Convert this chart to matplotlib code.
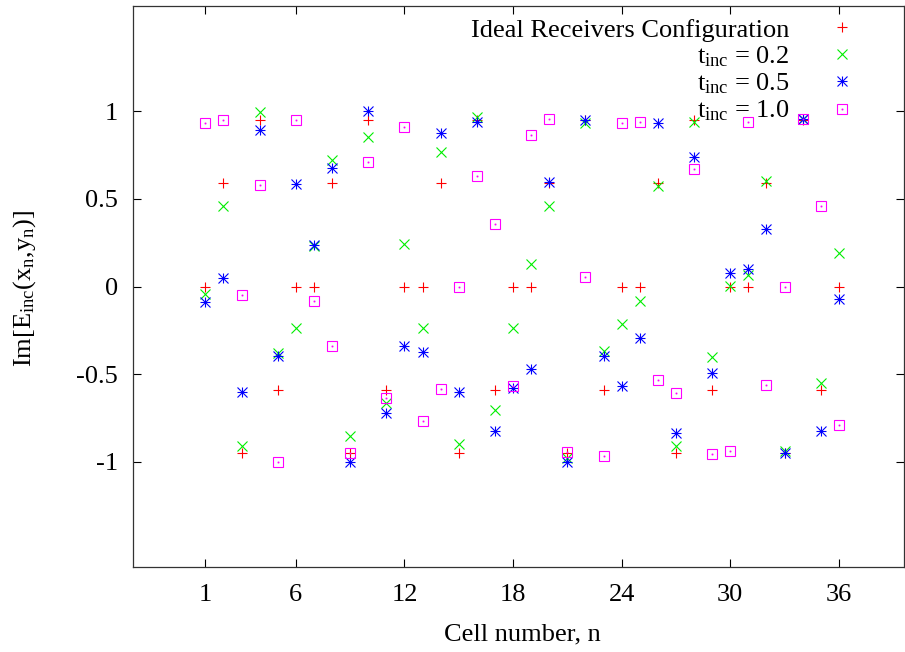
import numpy as np
import matplotlib
matplotlib.use('Agg')
import matplotlib.pyplot as plt

plt.rcParams['font.family'] = ['Liberation Serif', 'DejaVu Serif']
plt.rcParams['mathtext.fontset'] = 'custom'
plt.rcParams['mathtext.rm'] = 'Liberation Serif'
plt.rcParams['mathtext.it'] = 'Liberation Serif:italic'
plt.rcParams['font.size'] = 19

# Cell index
cells = np.arange(1, 37)

# Im[E_inc]
ideal = [0, 0.588, -0.951, 0.951, -0.588, 0,
         0, 0.588, -0.951, 0.951, -0.588, 0,
         0, 0.588, -0.951, 0.951, -0.588, 0,
         0, 0.588, -0.951, 0.951, -0.588, 0,
         0, 0.588, -0.951, 0.951, -0.588, 0,
         0, 0.588, -0.951, 0.951, -0.588, 0]
t02 = [-0.045, 0.461, -0.909, 0.996, -0.377, -0.234,
       0.232, 0.72, -0.851, 0.851, -0.667, 0.242,
       -0.234, 0.768, -0.901, 0.968, -0.705, -0.234,
       0.128, 0.457, -0.981, 0.933, -0.368, -0.215,
       -0.08, 0.571, -0.91, 0.937, -0.404, 0.004,
       0.067, 0.6, -0.937, 0.955, -0.552, 0.19]
t05 = [-0.086, 0.048, -0.604, 0.895, -0.396, 0.587,
       0.238, 0.676, -1.0, 1.0, -0.724, -0.339,
       -0.375, 0.876, -0.604, 0.939, -0.823, -0.581,
       -0.472, 0.594, -1.0, 0.949, -0.396, -0.568,
       -0.295, 0.933, -0.838, 0.737, -0.495, 0.076,
       0.099, 0.33, -0.952, 0.958, -0.823, -0.07]
t10 = [0.933, 0.949, -0.046, 0.579, -1.0, 0.949,
       -0.082, -0.339, -0.947, 0.71, -0.638, 0.912,
       -0.77, -0.585, 0.0, 0.632, 0.358, -0.568,
       0.867, 0.958, -0.943, 0.053, -0.968, 0.935,
       0.941, -0.533, -0.606, 0.67, -0.958, -0.937,
       0.939, -0.564, 0.0, 0.958, 0.461, -0.79]

xticks = [1, 6, 12, 18, 24, 30, 36]
yticks = [-1, -0.5, 0, 0.5, 1]
ytick_labels = ['-1', '-0.5', '0', '0.5', '1']

fig = plt.figure(figsize=(9.05, 6.52), dpi=100)
ax = fig.add_axes([133/905, 85/652, 771/905, 561/652])

lw = 0.8
h1, = ax.plot(cells, ideal, ls='none', marker='+', color='#ff0000', ms=7.5, mew=lw)
h2, = ax.plot(cells, t02, ls='none', marker='x', color='#00ee00', ms=6.5, mew=lw)
h3a, = ax.plot(cells, t05, ls='none', marker='+', color='#0000ff', ms=7.5, mew=lw)
h3b, = ax.plot(cells, t05, ls='none', marker='x', color='#0000ff', ms=6.5, mew=lw)
h4a, = ax.plot(cells, t10, ls='none', marker='s', mfc='none', mec='#ff00ff', ms=6.5, mew=lw)
h4b, = ax.plot(cells, t10, ls='none', marker='s', color='#ff00ff', ms=0.8, mew=0.5)

ax.set_xlim(-3, 39.6)
ax.set_ylim(-1.6, 1.6)
ax.set_xticks(xticks)
ax.set_yticks(yticks)
ax.set_yticklabels(ytick_labels)
ax.tick_params(direction='in', length=6, width=0.8, top=True, right=True)
ax.tick_params(axis='x', pad=12)
ax.tick_params(axis='y', pad=11)
for s in ax.spines.values():
    s.set_linewidth(0.9)
    s.set_color('#333333')

ax.set_xlabel('Cell number, n')
ax.xaxis.set_label_coords(0.505, -0.1)
ax.set_ylabel(r'Im[E$_{\mathrm{inc}}$(x$_{\mathrm{n}}$,y$_{\mathrm{n}}$)]')
ax.yaxis.set_label_coords(-0.123, 0.497)

ax.legend([h1, h2, (h3a, h3b), (h4a, h4b)],
          ['Ideal Receivers Configuration',
           r'$\mathrm{t_{inc}}$ = 0.2',
           r'$\mathrm{t_{inc}}$ = 0.5',
           r'$\mathrm{t_{inc}}$ = 1.0'],
          markerfirst=False, frameon=False, loc='upper right',
          bbox_to_anchor=(868.5/905, 1 - 5/652), bbox_transform=fig.transFigure,
          borderpad=0, handlelength=1.0, handletextpad=1.5, labelspacing=0.1)

plt.savefig('out.png', dpi=100)
